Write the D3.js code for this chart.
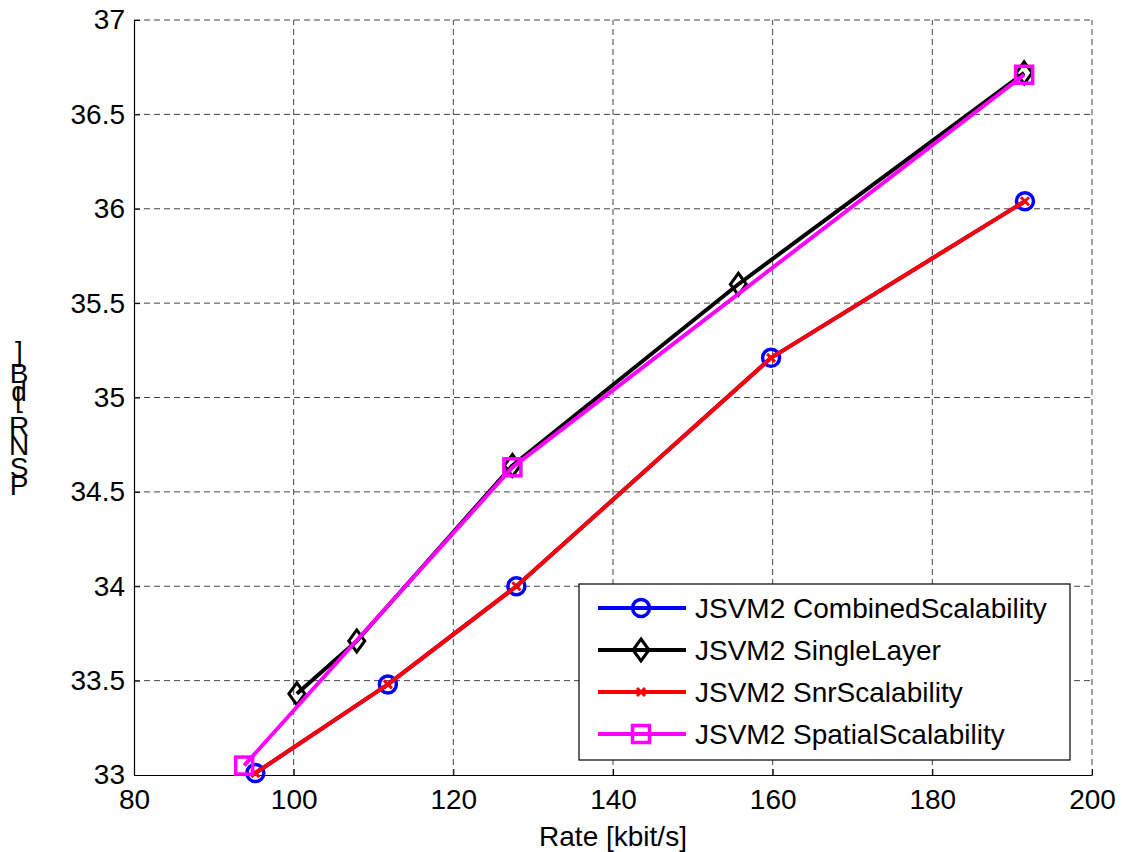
<!DOCTYPE html>
<html>
<head>
<meta charset="utf-8">
<script src="https://cdn.jsdelivr.net/npm/d3@7"></script>
<style>
  body { margin: 0; background: #fff; }
  svg { display: block; font-family: "Liberation Sans", Arial, sans-serif; }
</style>
</head>
<body>
<svg width="1122" height="852"></svg>
<script>
const width = 1122;
const height = 852;
const margin = { top: 20, right: 30, bottom: 77, left: 134 };

// data
const combinedRate = [95.2, 111.8, 127.9, 159.8, 191.6];
const combinedPsnr = [33.01, 33.48, 34.00, 35.21, 36.04];

const singleRate = [100.4, 107.9, 127.4, 155.7, 191.5];
const singlePsnr = [33.43, 33.71, 34.64, 35.60, 36.72];

const snrRate = [95.2, 111.8, 127.9, 159.8, 191.6];
const snrPsnr = [33.01, 33.48, 34.00, 35.21, 36.04];

const spatialRate = [93.8, 127.4, 191.5];
const spatialPsnr = [33.05, 34.63, 36.71];

const xTicks = [80, 100, 120, 140, 160, 180, 200];
const yTicks = [33, 33.5, 34, 34.5, 35, 35.5, 36, 36.5, 37];

const series = [
  { name: "JSVM2 CombinedScalability", color: "#0000ff", marker: "circle", rate: combinedRate, psnr: combinedPsnr },
  { name: "JSVM2 SingleLayer", color: "#000000", marker: "diamond", rate: singleRate, psnr: singlePsnr },
  { name: "JSVM2 SnrScalability", color: "#ff0000", marker: "x", rate: snrRate, psnr: snrPsnr },
  { name: "JSVM2 SpatialScalability", color: "#ff00ff", marker: "square", rate: spatialRate, psnr: spatialPsnr }
];

const fontSize = 28;

const svg = d3.select("svg");

const x = d3.scaleLinear()
  .domain([80, 200])
  .range([margin.left, width - margin.right]);

const y = d3.scaleLinear()
  .domain([33, 37])
  .range([height - margin.bottom, margin.top]);

// grid
const grid = svg.append("g")
  .attr("stroke", "#444")
  .attr("stroke-width", 1)
  .attr("stroke-dasharray", "6,4");

grid.selectAll("line.gx")
  .data(xTicks.slice(1))
  .join("line")
  .attr("x1", d => x(d)).attr("x2", d => x(d))
  .attr("y1", y(33)).attr("y2", y(37));

grid.selectAll("line.gy")
  .data(yTicks.slice(1))
  .join("line")
  .attr("class", "gy")
  .attr("x1", x(80)).attr("x2", x(200))
  .attr("y1", d => y(d)).attr("y2", d => y(d));

// axes
const xAxis = svg.append("g")
  .attr("transform", `translate(0,${y(33)})`)
  .call(d3.axisBottom(x).tickValues(xTicks).tickSize(-6).tickPadding(14).tickSizeOuter(0));

const yAxis = svg.append("g")
  .attr("transform", `translate(${x(80)},0)`)
  .call(d3.axisLeft(y).tickValues(yTicks).tickFormat(d3.format("")).tickSize(-6).tickPadding(9).tickSizeOuter(0));

[xAxis, yAxis].forEach(g => {
  g.selectAll("text")
    .attr("font-family", "Liberation Sans, Arial, sans-serif")
    .attr("font-size", fontSize)
    .attr("fill", "#000");
  g.selectAll("line").attr("stroke", "#000");
  g.select(".domain").attr("stroke", "#000").attr("stroke-width", 1.2);
});
xAxis.selectAll("text").attr("dy", "0.71em");

// x label
svg.append("text")
  .attr("x", (x(80) + x(200)) / 2)
  .attr("y", 846)
  .attr("text-anchor", "middle")
  .attr("font-size", fontSize)
  .text("Rate [kbit/s]");

// y label, glyphs stacked upright from bottom to top
const yLabel = "PSNR [dB]".split("");
const yLabelBase = [495, 477, 455, 436, 420, 407, 401, 383, 361];
svg.append("g").selectAll("text")
  .data(yLabel)
  .join("text")
  .attr("x", 19)
  .attr("y", (d, i) => yLabelBase[i])
  .attr("text-anchor", "middle")
  .attr("font-size", fontSize)
  .text(d => d);

// markers
function drawMarker(g, type, color) {
  if (type === "circle") {
    g.append("circle").attr("r", 8.5).attr("fill", "none")
      .attr("stroke", color).attr("stroke-width", 3.5);
  } else if (type === "diamond") {
    g.append("path").attr("d", "M0,-11L8,0L0,11L-8,0Z").attr("fill", "none")
      .attr("stroke", color).attr("stroke-width", 3);
  } else if (type === "square") {
    g.append("rect").attr("x", -8.5).attr("y", -8.5).attr("width", 17).attr("height", 17)
      .attr("fill", "none").attr("stroke", color).attr("stroke-width", 3.5);
  } else {
    g.append("path").attr("d", "M-4,-4L4,4M-4,4L4,-4").attr("fill", "none")
      .attr("stroke", color).attr("stroke-width", 3);
  }
}

const line = d3.line()
  .x(d => x(d[0]))
  .y(d => y(d[1]));

series.forEach(s => {
  const pts = s.rate.map((r, i) => [r, s.psnr[i]]);
  const g = svg.append("g");
  g.append("path")
    .datum(pts)
    .attr("d", line)
    .attr("fill", "none")
    .attr("stroke", s.color)
    .attr("stroke-width", 4)
    .attr("stroke-linejoin", "round");
  g.selectAll("g.m")
    .data(pts)
    .join("g")
    .attr("transform", d => `translate(${x(d[0])},${y(d[1])})`)
    .each(function () { drawMarker(d3.select(this), s.marker, s.color); });
});

// legend
const legend = svg.append("g");
legend.append("rect")
  .attr("x", 579).attr("y", 584)
  .attr("width", 491).attr("height", 176)
  .attr("fill", "#fff").attr("stroke", "#000").attr("stroke-width", 1.2);

series.forEach((s, i) => {
  const cy = 608 + i * 42;
  legend.append("line")
    .attr("x1", 598).attr("x2", 686)
    .attr("y1", cy).attr("y2", cy)
    .attr("stroke", s.color).attr("stroke-width", 4);
  const m = legend.append("g").attr("transform", `translate(641,${cy})`);
  drawMarker(m, s.marker, s.color);
  legend.append("text")
    .attr("x", 695).attr("y", cy)
    .attr("dy", "0.35em")
    .attr("font-size", fontSize)
    .text(s.name);
});
</script>
</body>
</html>
